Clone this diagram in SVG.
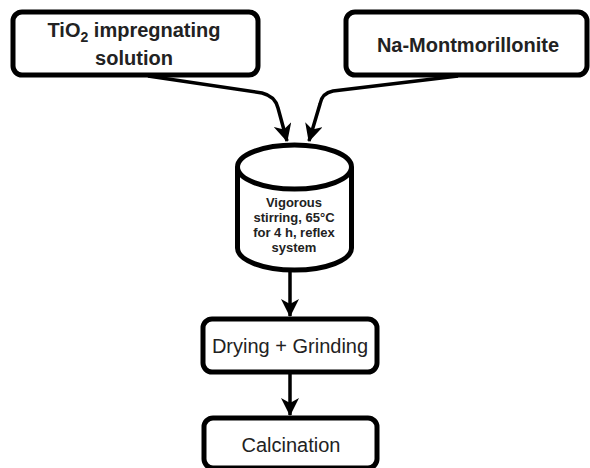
<svg xmlns="http://www.w3.org/2000/svg" width="590" height="468" viewBox="0 0 590 468">
<defs>
<marker id="ah" markerWidth="18" markerHeight="18" viewBox="0 0 18 18" refX="17" refY="9" orient="auto" markerUnits="userSpaceOnUse">
<path d="M0,0 L18,9 L0,18 L5,9 z" fill="#000"/>
</marker>
<style>
.box{fill:#fff;stroke:#000;stroke-width:5}
.con{fill:none;stroke:#000;stroke-width:3.5;marker-end:url(#ah)}
.tb{font-family:"Liberation Sans",Arial,sans-serif;font-weight:bold;fill:#222;text-anchor:middle}
.tr{font-family:"Liberation Sans",Arial,sans-serif;fill:#222;text-anchor:middle;font-size:20px}
</style>
</defs>
<rect width="590" height="468" fill="#fff"/>
<g id="connectors">
<path class="con" d="M148,76 L262,93 Q275,96 278,108 L287,141"/>
<path class="con" d="M458,76 L333,91 Q322,93 320,104 L309,141"/>
<path class="con" d="M290,270 L290,316"/>
<path class="con" d="M290,372 L290,415"/>
</g>
<g id="tio2">
<rect class="box" x="13" y="12" width="245" height="63" rx="9"/>
<text class="tb" font-size="20" x="134" y="37">TiO<tspan font-size="14" dy="5">2</tspan><tspan dy="-5"> impregnating</tspan></text>
<text class="tb" font-size="20" x="134" y="65">solution</text>
</g>
<g id="namont">
<rect class="box" x="346" y="12" width="241" height="63" rx="9"/>
<text class="tb" font-size="20" x="468" y="52">Na-Montmorillonite</text>
</g>
<g id="reactor">
<path class="box" d="M237.5,167 L237.5,248 A57,22 0 0 0 351.5,248 L351.5,167"/>
<ellipse class="box" cx="294.5" cy="167" rx="57" ry="22"/>
<text class="tb" font-size="13" x="294" y="207">Vigorous</text>
<text class="tb" font-size="13" x="294" y="222">stirring, 65°C</text>
<text class="tb" font-size="13" x="294" y="237">for 4 h, reflex</text>
<text class="tb" font-size="13" x="294" y="252">system</text>
</g>
<g id="drying">
<rect class="box" x="203" y="319" width="174" height="53" rx="9"/>
<text class="tr" x="290" y="353">Drying + Grinding</text>
</g>
<g id="calcination">
<rect class="box" x="204" y="418" width="173" height="50" rx="9"/>
<text class="tr" x="291" y="452">Calcination</text>
</g>
</svg>
